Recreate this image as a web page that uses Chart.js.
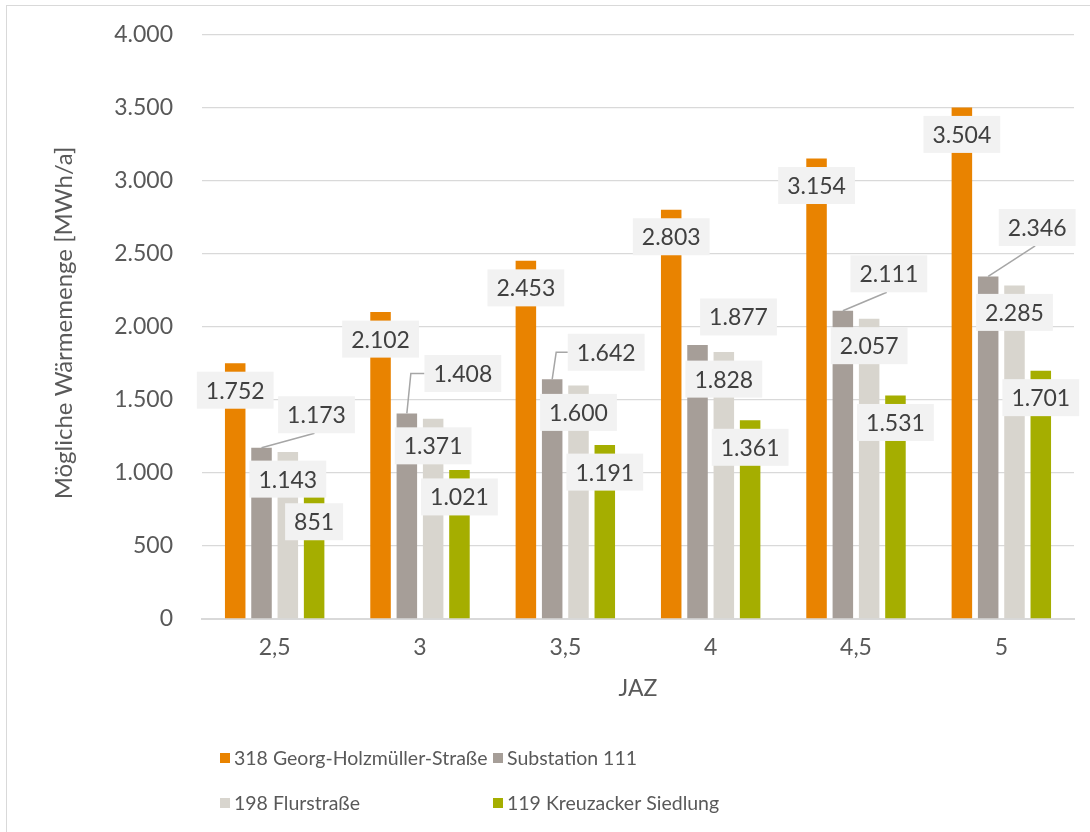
<!DOCTYPE html>
<html>
<head>
<meta charset="utf-8">
<title>Mögliche Wärmemenge nach JAZ</title>
<script src="https://cdn.jsdelivr.net/npm/chart.js@4.4.0/dist/chart.umd.min.js"></script>
<style>
  html, body { margin: 0; padding: 0; background: #fff; }
  #wrap { position: relative; width: 1090px; height: 832px; overflow: hidden; }
  #frame { position: absolute; left: 6px; top: 5px; width: 1200px; height: 1000px;
           border: 1.5px solid #D9D9D9; box-sizing: border-box; }
  #c { position: absolute; left: 0; top: 0; }
</style>
</head>
<body>
<div id="wrap">
  <div id="frame"></div>
  <canvas id="c" width="1090" height="832"></canvas>
</div>
<script>
// ---- data ----
const categories = ['2,5', '3', '3,5', '4', '4,5', '5'];
const georgHolzmuellerStrasse = [1752, 2102, 2453, 2803, 3154, 3504];
const substation111 = [1173, 1408, 1642, 1877, 2111, 2346];
const flurstrasse = [1143, 1371, 1600, 1828, 2057, 2285];
const kreuzackerSiedlung = [851, 1021, 1191, 1361, 1531, 1701];
const seriesNames = ['318 Georg-Holzmüller-Straße', 'Substation 111', '198 Flurstraße', '119 Kreuzacker Siedlung'];
const yTickValues = [0, 500, 1000, 1500, 2000, 2500, 3000, 3500, 4000];
const axisTitleY = 'Mögliche Wärmemenge [MWh/a]';
const axisTitleX = 'JAZ';

// ---- styling ----
const seriesColors = ['#E98300', '#A69E98', '#D8D5CE', '#A5AE00'];
const FONT = 'Lato';
const TEXT = '#595959';
const LABEL_TEXT = '#404040';

// German number format: 1234 -> "1.234"
function fmt(v) {
  return String(Math.round(v)).replace(/\B(?=(\d{3})+(?!\d))/g, '.');
}

// Label placement per series: offset of the label box centre from the bar top,
// plus the kind of leader line connecting it to the bar.
const inside = { dx: 0, dy: 27, leader: 'none' };
const labelPlacement = [
  categories.map(() => inside),
  [
    { dx: 55, dy: -33, leader: 'line' },
    { dx: 56, dy: -40, leader: 'elbow' },
    { dx: 54, dy: -27, leader: 'elbow' },
    { dx: 41, dy: -28, leader: 'none' },
    { dx: 46, dy: -37, leader: 'line' },
    { dx: 49, dy: -49, leader: 'line' }
  ],
  categories.map(() => inside),
  categories.map(() => inside)
];

const valueLabels = {
  id: 'valueLabels',
  afterDatasetsDraw(chart) {
    const ctx = chart.ctx;
    const boxH = 37, padX = 9;
    ctx.save();
    ctx.font = '23px ' + FONT;
    const items = [];
    chart.data.datasets.forEach((ds, di) => {
      const meta = chart.getDatasetMeta(di);
      meta.data.forEach((bar, i) => {
        const p = labelPlacement[di][i];
        const txt = fmt(ds.data[i]);
        const w = ctx.measureText(txt).width + 2 * padX;
        const cx = bar.x + p.dx, cy = bar.y + p.dy;
        items.push({ txt, w, cx, cy, bx: bar.x, by: bar.y, leader: p.leader });
      });
    });
    // leader lines under the boxes
    ctx.strokeStyle = '#A6A6A6';
    ctx.lineWidth = 1.5;
    items.forEach(it => {
      if (it.leader === 'line') {
        ctx.beginPath();
        ctx.moveTo(it.bx, it.by);
        ctx.lineTo(it.cx - 2, it.cy + boxH / 2);
        ctx.stroke();
      } else if (it.leader === 'elbow') {
        ctx.beginPath();
        ctx.moveTo(it.bx, it.by);
        ctx.lineTo(it.bx + 4, it.cy);
        ctx.lineTo(it.cx - it.w / 2, it.cy);
        ctx.stroke();
      }
    });
    items.forEach(it => {
      ctx.fillStyle = '#F2F2F2';
      ctx.fillRect(it.cx - it.w / 2, it.cy - boxH / 2, it.w, boxH);
      ctx.fillStyle = LABEL_TEXT;
      ctx.textAlign = 'center';
      ctx.textBaseline = 'middle';
      ctx.fillText(it.txt, it.cx, it.cy + 1);
    });
    ctx.restore();
  }
};

// Rotated value-axis title and two-column legend beneath the plot
const frameText = {
  id: 'frameText',
  afterDraw(chart) {
    const ctx = chart.ctx;
    const a = chart.chartArea;
    ctx.save();
    // axis title
    ctx.font = '24px ' + FONT;
    ctx.fillStyle = TEXT;
    ctx.translate(a.left - 130, (a.top + a.bottom) / 2 - 4);
    ctx.rotate(-Math.PI / 2);
    ctx.textAlign = 'center';
    ctx.textBaseline = 'alphabetic';
    ctx.fillText(axisTitleY, 0, 0);
    ctx.restore();

    ctx.save();
    const colX = [a.left + 18, a.left + 291];
    const rowY = [a.bottom + 139, a.bottom + 184];
    ctx.font = '19.5px ' + FONT;
    ctx.textBaseline = 'middle';
    ctx.textAlign = 'left';
    chart.data.datasets.forEach((ds, i) => {
      const x = colX[i % 2], y = rowY[Math.floor(i / 2)];
      ctx.fillStyle = ds.backgroundColor;
      ctx.fillRect(x, y - 5, 10, 10);
      ctx.fillStyle = TEXT;
      ctx.fillText(ds.label, x + 14, y + 1);
    });
    ctx.restore();
  }
};

const seriesValues = [georgHolzmuellerStrasse, substation111, flurstrasse, kreuzackerSiedlung];

new Chart(document.getElementById('c'), {
  type: 'bar',
  data: {
    labels: categories,
    datasets: seriesValues.map((vals, i) => ({
      label: seriesNames[i],
      data: vals,
      backgroundColor: seriesColors[i],
      borderWidth: 0,
      categoryPercentage: 0.724,
      barPercentage: 0.78
    }))
  },
  options: {
    responsive: false,
    animation: false,
    devicePixelRatio: 1,
    layout: { padding: { left: 0, top: 35, right: 16, bottom: 123 } },
    plugins: { legend: { display: false }, tooltip: { enabled: false } },
    font: { family: FONT },
    scales: {
      x: {
        grid: { display: false, drawTicks: false },
        border: { display: true, color: '#D9D9D9', width: 2 },
        ticks: { color: TEXT, font: { family: FONT, size: 23 }, padding: 15 },
        title: { display: true, text: axisTitleX, color: TEXT,
                 font: { family: FONT, size: 23 }, padding: { top: 0, bottom: 7 } },
        afterFit(scale) { scale.height = 90; }
      },
      y: {
        min: 0, max: 4000,
        afterBuildTicks(scale) { scale.ticks = yTickValues.map(v => ({ value: v })); },
        grid: { color: '#D9D9D9', lineWidth: 1.3, drawTicks: false },
        border: { display: false },
        ticks: { color: TEXT, font: { family: FONT, size: 23 }, padding: 29,
                 callback: v => fmt(v) },
        afterFit(scale) {
          scale.width = 202;
          scale.paddingTop = 0;
          scale.paddingBottom = 0;
        }
      }
    }
  },
  plugins: [valueLabels, frameText]
});
</script>
</body>
</html>
